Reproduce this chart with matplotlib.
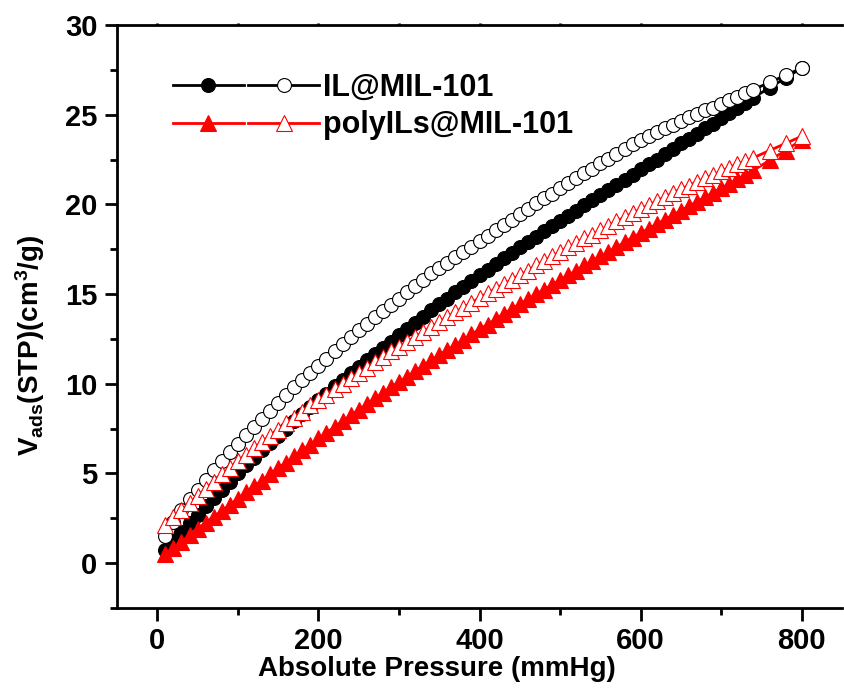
import matplotlib
matplotlib.use('Agg')
import matplotlib.pyplot as plt
from matplotlib.legend_handler import HandlerTuple
from matplotlib.ticker import MultipleLocator

plt.rcParams['font.family'] = ['Liberation Sans', 'DejaVu Sans']
plt.rcParams['font.weight'] = 'bold'
plt.rcParams['mathtext.fontset'] = 'custom'
plt.rcParams['mathtext.rm'] = 'Liberation Sans:bold'
plt.rcParams['mathtext.bf'] = 'Liberation Sans:bold'
plt.rcParams['mathtext.it'] = 'Liberation Sans:bold'
plt.rcParams['mathtext.default'] = 'bf'

# pressure points (mmHg)
pressure = [10, 20, 30, 40, 50, 60, 70, 80, 90, 100,
            110, 120, 130, 140, 150, 160, 170, 180, 190, 200,
            210, 220, 230, 240, 250, 260, 270, 280, 290, 300,
            310, 320, 330, 340, 350, 360, 370, 380, 390, 400,
            410, 420, 430, 440, 450, 460, 470, 480, 490, 500,
            510, 520, 530, 540, 550, 560, 570, 580, 590, 600,
            610, 620, 630, 640, 650, 660, 670, 680, 690, 700,
            710, 720, 730, 740, 760, 780, 800]

# IL@MIL-101 adsorption (filled circles)
il_ads = [0.75, 1.25, 1.75, 2.25, 2.7, 3.2, 3.65, 4.1, 4.55, 5.0,
          5.45, 5.85, 6.3, 6.7, 7.1, 7.5, 7.9, 8.3, 8.7, 9.1,
          9.45, 9.85, 10.2, 10.6, 10.95, 11.3, 11.65, 12.0, 12.35, 12.7,
          13.05, 13.4, 13.75, 14.1, 14.45, 14.75, 15.1, 15.4, 15.75, 16.05,
          16.35, 16.7, 17.0, 17.3, 17.6, 17.9, 18.2, 18.5, 18.8, 19.1,
          19.35, 19.65, 19.95, 20.25, 20.5, 20.8, 21.1, 21.35, 21.65, 21.95,
          22.25, 22.5, 22.8, 23.1, 23.4, 23.65, 23.95, 24.25, 24.5, 24.8,
          25.1, 25.35, 25.65, 25.95, 26.5, 27.05, 27.6]

# IL@MIL-101 desorption (open circles)
il_des = [1.5, 2.3, 2.95, 3.55, 4.1, 4.65, 5.2, 5.7, 6.2, 6.65,
          7.15, 7.6, 8.05, 8.5, 8.95, 9.35, 9.8, 10.2, 10.6, 11.0,
          11.4, 11.8, 12.2, 12.6, 13.0, 13.35, 13.7, 14.05, 14.4, 14.75,
          15.1, 15.45, 15.8, 16.15, 16.45, 16.75, 17.05, 17.35, 17.65, 17.95,
          18.25, 18.55, 18.85, 19.15, 19.45, 19.75, 20.05, 20.35, 20.6, 20.9,
          21.2, 21.45, 21.75, 22.0, 22.3, 22.55, 22.8, 23.1, 23.35, 23.6,
          23.8, 24.05, 24.25, 24.45, 24.65, 24.85, 25.05, 25.25, 25.4, 25.6,
          25.8, 26.0, 26.2, 26.4, 26.8, 27.2, 27.6]

# polyILs@MIL-101 adsorption (filled triangles)
poly_ads = [0.5, 0.85, 1.2, 1.55, 1.9, 2.25, 2.6, 2.9, 3.25, 3.6,
            3.95, 4.3, 4.6, 4.95, 5.3, 5.6, 5.95, 6.3, 6.6, 6.95,
            7.25, 7.6, 7.9, 8.25, 8.55, 8.85, 9.2, 9.5, 9.8, 10.1,
            10.4, 10.7, 11.0, 11.3, 11.6, 11.9, 12.15, 12.45, 12.75, 13.05,
            13.3, 13.6, 13.9, 14.15, 14.45, 14.7, 15.0, 15.25, 15.5, 15.8,
            16.05, 16.3, 16.6, 16.85, 17.1, 17.35, 17.6, 17.9, 18.15, 18.4,
            18.65, 18.9, 19.15, 19.4, 19.65, 19.9, 20.15, 20.4, 20.65, 20.9,
            21.15, 21.4, 21.65, 21.9, 22.45, 23.0, 23.6]

# polyILs@MIL-101 desorption (open triangles)
poly_des = [2.1, 2.55, 2.95, 3.35, 3.75, 4.15, 4.55, 4.95, 5.3, 5.7,
            6.05, 6.4, 6.75, 7.1, 7.45, 7.8, 8.1, 8.45, 8.8, 9.1,
            9.4, 9.7, 10.0, 10.3, 10.6, 10.9, 11.2, 11.5, 11.8, 12.05,
            12.35, 12.6, 12.9, 13.15, 13.45, 13.7, 14.0, 14.25, 14.5, 14.8,
            15.05, 15.3, 15.55, 15.8, 16.05, 16.3, 16.6, 16.85, 17.1, 17.35,
            17.6, 17.85, 18.1, 18.3, 18.55, 18.8, 19.05, 19.3, 19.5, 19.75,
            19.95, 20.2, 20.4, 20.65, 20.85, 21.05, 21.25, 21.45, 21.65, 21.85,
            22.05, 22.25, 22.4, 22.6, 23.0, 23.4, 23.8]

labels = ['IL@MIL-101', 'polyILs@MIL-101']

fig = plt.figure(figsize=(8.44, 6.88), dpi=100)
ax = fig.add_axes([117 / 844, 80 / 688, 725 / 844, 583 / 688])

lw = 2
ms_c = 10
ms_t = 11.5
mew = 0.8

h1, = ax.plot(pressure, il_ads, '-o', color='black', lw=lw, ms=ms_c,
              mfc='black', mec='black', mew=mew)
h2, = ax.plot(pressure, il_des, '-o', color='black', lw=lw, ms=ms_c,
              mfc='white', mec='black', mew=mew)
h3, = ax.plot(pressure, poly_ads, '-^', color='red', lw=lw, ms=ms_t,
              mfc='red', mec='red', mew=mew)
h4, = ax.plot(pressure, poly_des, '-^', color='red', lw=lw, ms=ms_t,
              mfc='white', mec='red', mew=mew)

ax.set_xlim(-50, 850)
ax.set_ylim(-2.5, 30)
ax.xaxis.set_major_locator(MultipleLocator(200))
ax.xaxis.set_minor_locator(MultipleLocator(100))
ax.yaxis.set_major_locator(MultipleLocator(5))
ax.yaxis.set_minor_locator(MultipleLocator(2.5))

for side in ['left', 'bottom', 'top']:
    ax.spines[side].set_linewidth(2)
ax.spines['right'].set_visible(False)

ax.tick_params(which='major', direction='out', length=9, width=2,
               labelsize=21, pad=5)
ax.tick_params(which='minor', direction='out', length=5, width=2)
ax.tick_params(axis='x', which='both', top=True, labeltop=False)
for t in ax.xaxis.get_major_ticks() + ax.xaxis.get_minor_ticks():
    t.tick2line.set_markersize(1.5)
for lab in ax.get_xticklabels() + ax.get_yticklabels():
    lab.set_fontweight('bold')

ax.set_xlabel('Absolute Pressure (mmHg)', fontsize=20, fontweight='bold')
ax.xaxis.set_label_coords(0.441, -0.082)
ax.set_ylabel(r'V$_{ads}$(STP)(cm$^{3}$/g)', fontsize=20, fontweight='bold')
ax.yaxis.set_label_coords(-0.097, 0.451)

leg = ax.legend([(h1, h2), (h3, h4)], labels,
                handler_map={tuple: HandlerTuple(ndivide=None, pad=0.15)},
                loc='upper left', bbox_to_anchor=(0.077, 0.918),
                frameon=False, borderaxespad=0, borderpad=0,
                handlelength=4.8, handletextpad=0.1, labelspacing=0.25,
                prop={'size': 22, 'weight': 'bold'})

fig.savefig('out.png', dpi=100)
